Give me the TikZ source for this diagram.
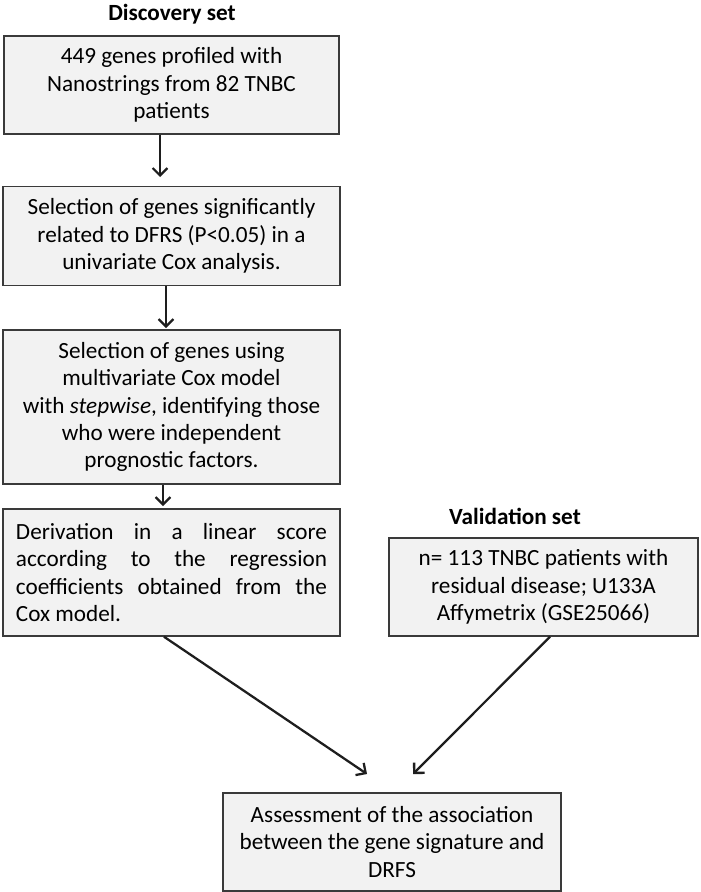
\documentclass[tikz,border=0pt]{standalone}
\usepackage{fontspec}
\setmainfont{Carlito}
\usetikzlibrary{arrows.meta}
\definecolor{boxfill}{HTML}{F2F2F2}
\definecolor{boxline}{HTML}{3A3A3A}
\definecolor{arrcol}{HTML}{1E1E1E}
\begin{document}
\begin{tikzpicture}[x=0.75pt,y=-0.75pt,
  flowbox/.style={draw=boxline, fill=boxfill, line width=1.1pt, rectangle,
    inner sep=0pt, align=center, font=\fontsize{17.4}{20.4}\selectfont},
  heading/.style={font=\fontsize{17.4}{20.4}\selectfont\bfseries},
  arr/.style={draw=arrcol, line width=1.7pt, -{Straight Barb[length=5.5pt,width=11pt,line width=1.7pt]}}]
\useasboundingbox (0,0) rectangle (700,892);
\fill[white] (0,0) rectangle (700,892);

\node[heading] (t1) at (172,14) {Discovery set};
\node[heading] (t2) at (515,516) {Validation set};

\node[flowbox, minimum width=335*0.75pt, minimum height=98*0.75pt] (b1) at (171.5,85)
  {449 genes profiled with\\Nanostrings from 82 TNBC\\patients};
\node[flowbox, minimum width=337*0.75pt, minimum height=99*0.75pt] (b2) at (171.5,236)
  {Selection of genes significantly\\related to DFRS (P<0.05) in a\\univariate Cox analysis.};
\node[flowbox, minimum width=337*0.75pt, minimum height=154*0.75pt] (b3) at (171.5,407)
  {Selection of genes using\\multivariate Cox model\\with \textit{stepwise}, identifying those\\who were independent\\prognostic factors.};
\node[flowbox, minimum width=337*0.75pt, minimum height=127*0.75pt, text width=311*0.75pt, align=justify] (b4) at (171.5,572.5)
  {Derivation in a linear score\linebreak according to the regression\linebreak coefficients obtained from the\linebreak Cox model.};
\node[flowbox, minimum width=309*0.75pt, minimum height=98*0.75pt] (b5) at (543.5,587)
  {n= 113 TNBC patients with\\residual disease; U133A\\Affymetrix (GSE25066)};
\node[flowbox, minimum width=338*0.75pt, minimum height=98*0.75pt] (b6) at (392,842)
  {Assessment of the association\\between the gene signature and\\DRFS};

\coordinate (e1) at (160,177);
\coordinate (e2) at (166,328);
\coordinate (e3) at (163,506);
\coordinate (e4) at (367,774);
\coordinate (e5) at (413,774);

\draw[arr] (b1.south -| e1) -- (e1);
\draw[arr] (b2.south -| e2) -- (e2);
\draw[arr] (b3.south -| e3) -- (e3);
\draw[arr] (b4.south -| 164,0) -- (e4);
\draw[arr] (b5.south -| 550,0) -- (e5);
\end{tikzpicture}
\end{document}
